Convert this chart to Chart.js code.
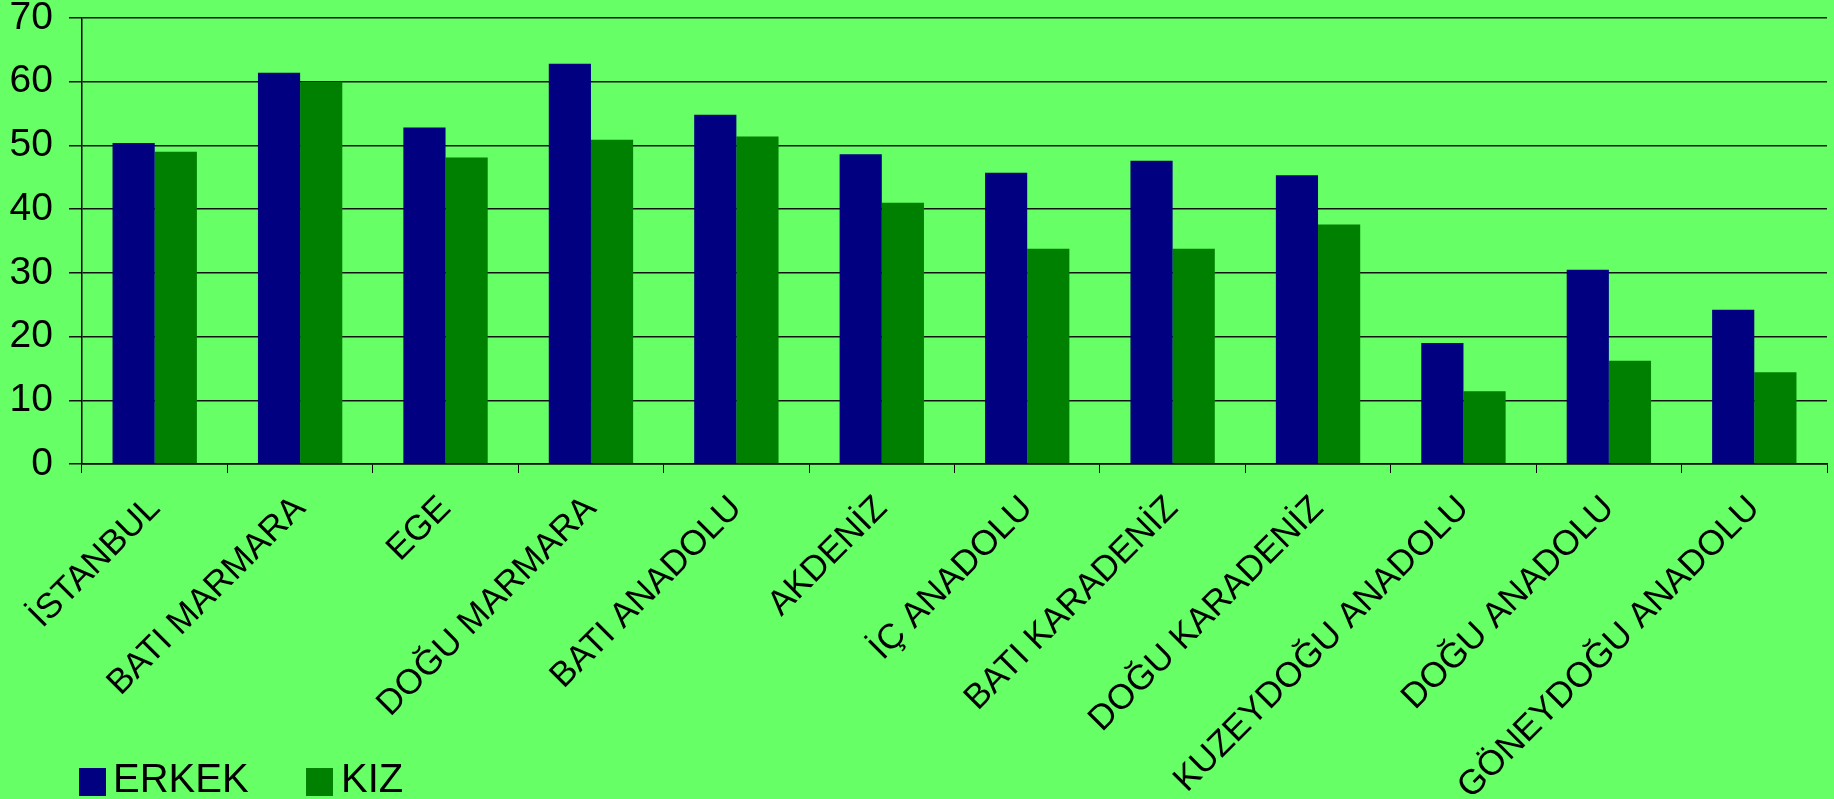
<!DOCTYPE html>
<html>
<head>
<meta charset="utf-8">
<script src="https://cdn.jsdelivr.net/npm/chart.js@4/dist/chart.umd.min.js"></script>
<style>
  html, body { margin: 0; padding: 0; background: #66ff66; overflow: hidden; }
  .chart-size { position: relative; width: 1834px; height: 799px; }
  .sw { position: absolute; width: 27px; height: 28px; top: 768px; }
  .lbl { position: absolute; top: 758px; font: 40px Arial, "Liberation Sans", sans-serif; line-height: 40px; color: #000; }
</style>
</head>
<body>
<div class="chart-size">
  <canvas id="c"></canvas>
  <div class="sw" style="left:79px;background:#000080"></div>
  <div class="lbl" style="left:113px">ERKEK</div>
  <div class="sw" style="left:306px;background:#008000"></div>
  <div class="lbl" style="left:341px">KIZ</div>
</div>
<script>
const regions = ['İSTANBUL', 'BATI MARMARA', 'EGE', 'DOĞU MARMARA', 'BATI ANADOLU', 'AKDENİZ',
  'İÇ ANADOLU', 'BATI KARADENİZ', 'DOĞU KARADENİZ', 'KUZEYDOĞU ANADOLU', 'DOĞU ANADOLU', 'GÖNEYDOĞU ANADOLU'];
const erkek = [50.4, 61.4, 52.8, 62.8, 54.8, 48.6, 45.7, 47.6, 45.3, 19.0, 30.5, 24.2];
const kiz = [49.0, 60.0, 48.1, 50.9, 51.4, 41.0, 33.8, 33.8, 37.6, 11.4, 16.2, 14.4];
const yTicks = [0, 10, 20, 30, 40, 50, 60, 70];

const font = 'Arial, "Liberation Sans", sans-serif';

const bgPlugin = {
  id: 'bg',
  beforeDraw(chart) {
    const ctx = chart.ctx;
    ctx.save();
    ctx.fillStyle = '#66ff66';
    ctx.fillRect(0, 0, chart.width, chart.height);
    ctx.restore();
  }
};

new Chart(document.getElementById('c'), {
  type: 'bar',
  data: {
    labels: regions,
    datasets: [
      { label: 'ERKEK', data: erkek, backgroundColor: '#000080', borderWidth: 0 },
      { label: 'KIZ', data: kiz, backgroundColor: '#008000', borderWidth: 0 }
    ]
  },
  options: {
    responsive: true,
    maintainAspectRatio: false,
    animation: false,
    layout: { padding: { top: 18, right: 7, left: 0, bottom: 0 } },
    plugins: { legend: { display: false }, tooltip: { enabled: false } },
    datasets: { bar: { barPercentage: 1, categoryPercentage: 0.58 } },
    scales: {
      x: {
        afterFit(scale) { scale.height = 335; },
        grid: { drawOnChartArea: false, drawTicks: true, tickLength: 9, color: '#000', offset: true },
        border: { display: true, color: '#000', width: 1.5 },
        ticks: {
          autoSkip: false, maxRotation: 45, minRotation: 45, padding: 15,
          color: '#000', font: { family: font, size: 35 }
        }
      },
      y: {
        min: 0, max: 70,
        afterFit(scale) {
          scale.width = 82;
          scale.paddingTop = 0;
          scale.paddingBottom = 0;
        },
        afterBuildTicks(scale) { scale.ticks = yTicks.map(v => ({ value: v })); },
        grid: { color: '#111', lineWidth: 1.5, tickLength: 13, drawTicks: true },
        border: { display: true, color: '#000', width: 1.5 },
        ticks: { padding: 16, color: '#000', font: { family: font, size: 39 } }
      }
    }
  },
  plugins: [bgPlugin]
});
</script>
</body>
</html>
